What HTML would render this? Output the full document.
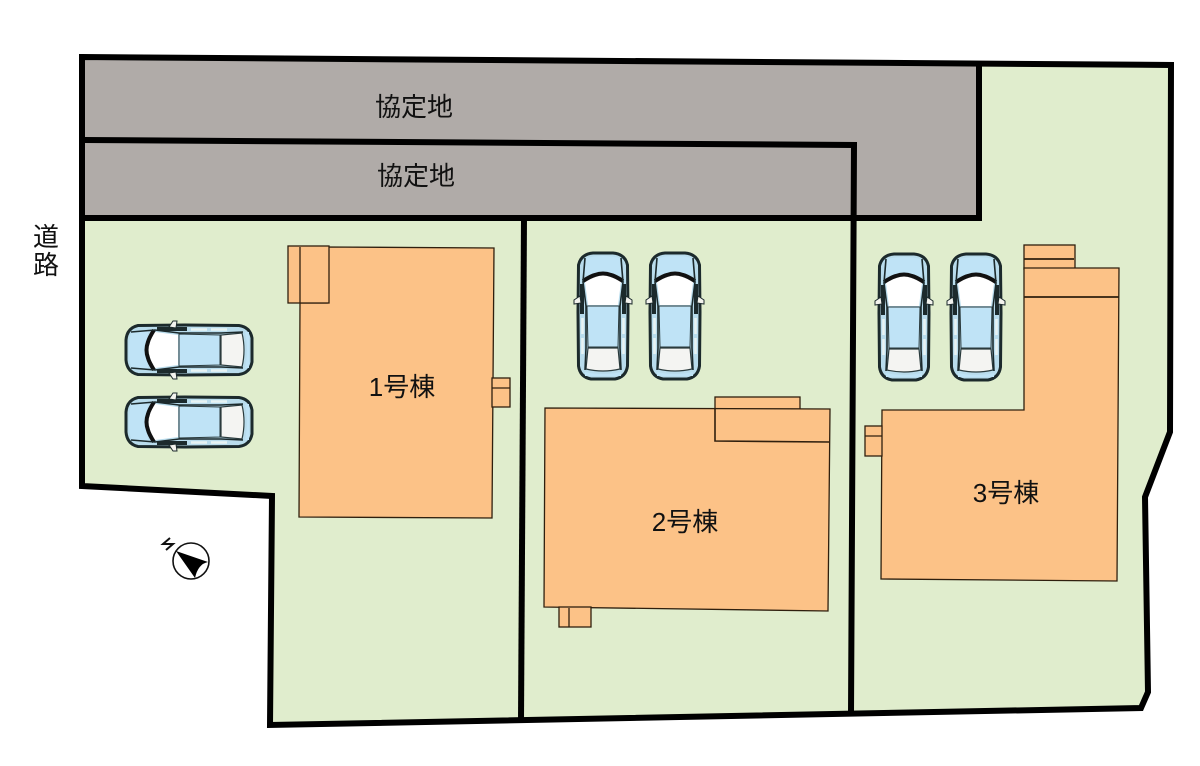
<!DOCTYPE html>
<html lang="ja">
<head>
<meta charset="utf-8">
<title>区画図</title>
<style>
html,body{margin:0;padding:0;background:#fff;width:1200px;height:766px;overflow:hidden}
svg{display:block}
text{font-family:"Liberation Sans","Noto Sans CJK JP",sans-serif;font-size:26px;fill:#111;text-anchor:middle}
</style>
</head>
<body>
<svg width="1200" height="766" viewBox="0 0 1200 766" xmlns="http://www.w3.org/2000/svg">
<defs>
<g id="car">
  <!-- body, front toward y=0; size 52x128 -->
  <path d="M1.5 13 Q4 2 16 1 L36 1 Q48 2 50.5 13 L51 60 L50.5 114 Q49 125 38 127 L14 127 Q3 125 1.5 114 L1 60 Z" fill="#b9dcec" stroke="#1c2a2c" stroke-width="3"/>
  <path d="M9 6 Q26 2 43 6 L46 24 Q26 18 6 24 Z" fill="#bfe3f6"/>
  <path d="M9 27 Q26 18 43 27 L44 30 L41 53 L11 53 L8 30 Z" fill="#fff"/>
  <path d="M6 29 Q14 24 18 23 Q26 20 34 23 Q38 24 46 29" fill="none" stroke="#111" stroke-width="4"/>
  <path d="M10 54 L42 54 L41 95 L11 95 Z" fill="#bfe3f6" stroke="#2a3a3c" stroke-width="1"/>
  <path d="M11 96 L41 96 L43 117 Q26 121 9 117 Z" fill="#f4f4f2" stroke="#2a3a3c" stroke-width="1.2"/>
  <path d="M8 120 Q26 124 44 120 L44 124 L8 124 Z" fill="#bfe3f6"/>
  <path d="M8 6 L6 30 L9 54 L9 96 L8 118 M44 6 L46 30 L43 54 L43 96 L44 118" fill="none" stroke="#1c2a2c" stroke-width="1.6"/>
  <path d="M5 32 L5 62 M47 32 L47 62" stroke="#1c2a2c" stroke-width="4"/>
  <path d="M5.5 66 L5.5 82 M46.5 66 L46.5 82 M5.5 86 L5.5 102 M46.5 86 L46.5 102" stroke="#e8f3f3" stroke-width="2.6"/>
  <path d="M3 44 L-3 48 L-3 52 L4 51 Z M49 44 L55 48 L55 52 L48 51 Z" fill="#f3f3ee" stroke="#1c2a2c" stroke-width="1"/>
</g>
</defs>

<rect width="1200" height="766" fill="#fff"/>

<!-- land -->
<polygon points="82,57 1171,65 1170,432 1145,497 1148,692 1141,708 270,725 272,496 82,486" fill="#e0edcd"/>

<!-- grey agreed land -->
<polygon points="84,59 979,63 979,218 854,218 854,145 84,141" fill="#b0aba8"/>
<polygon points="85,141 853,145 853,218 85,215" fill="#b0aba8"/>

<!-- buildings -->
<g fill="#fcc287" stroke="#2f1f0e" stroke-width="1.3">
  <polygon points="327,247 494,248 492,518 299,517 300,303 327,303"/>
  <rect x="288" y="246" width="41" height="57"/>
  <rect x="492" y="378" width="18" height="29"/>
  <rect x="715" y="397" width="85" height="12"/>
  <polygon points="545,408 830,409 828,611 544,607"/>
  <rect x="559" y="607" width="32" height="20"/>
  <rect x="1024" y="245" width="51" height="24"/>
  <polygon points="1024,268 1119,268 1117,581 881,579 882,410 1024,410"/>
  <rect x="865" y="426" width="17" height="30"/>
</g>
<g fill="none" stroke="#2f1f0e">
  <path d="M300 247 V303 M492 388 H510" stroke-width="1.3"/>
  <path d="M715 408 V441 L829 442" stroke-width="1.6"/>
  <path d="M569 608 V627" stroke-width="1.3"/>
  <path d="M1024 259 H1074" stroke-width="1.8"/>
  <path d="M1024 297 H1119" stroke-width="1.8"/>
  <path d="M865 436 H882" stroke-width="1.3"/>
</g>

<!-- boundaries -->
<g fill="none" stroke="#000" stroke-width="6">
  <polygon points="82,57 1171,65 1170,432 1145,497 1148,692 1141,708 270,725 272,496 82,486"/>
  <path d="M979 63 V218 H84"/>
  <path d="M84 140 L854 145 L851 714"/>
  <path d="M524 217 L521 720"/>
</g>

<!-- cars -->
<use href="#car" transform="translate(577,252)"/>
<use href="#car" transform="translate(649,252)"/>
<use href="#car" transform="translate(878,253)"/>
<use href="#car" transform="translate(950,253)"/>
<use href="#car" transform="translate(125,376) rotate(-90)"/>
<use href="#car" transform="translate(125,448) rotate(-90)"/>

<!-- compass -->
<circle cx="191" cy="561" r="18" fill="#fff" stroke="#111" stroke-width="1.6"/>
<path d="M176 551 L208 562 Q198 564 195 578 Z" fill="#000"/>
<path d="M170 538 L163 544 L173 544 L166 550" fill="none" stroke="#111" stroke-width="2"/>

<!-- labels -->
<text x="414" y="116">協定地</text>
<text x="416" y="185">協定地</text>
<text x="402" y="396">1号棟</text>
<text x="685" y="531">2号棟</text>
<text x="1006" y="502">3号棟</text>
<text x="46" y="246">道</text>
<text x="46" y="274">路</text>
</svg>
</body>
</html>
